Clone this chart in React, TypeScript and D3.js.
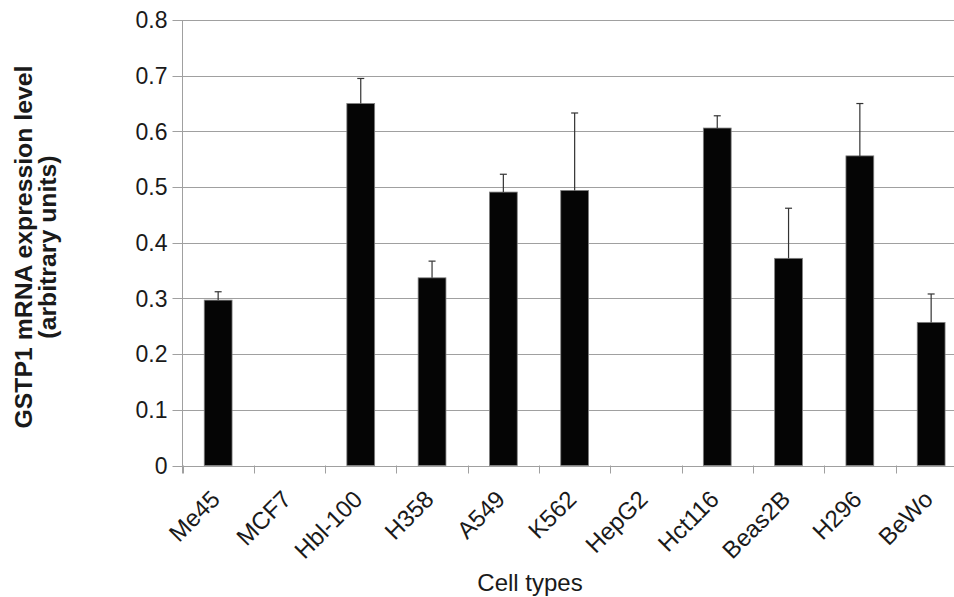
import React, { useEffect, useRef } from "react";
import * as d3 from "d3";

const cellTypes = ["Me45", "MCF7", "Hbl-100", "H358", "A549", "K562", "HepG2", "Hct116", "Beas2B", "H296", "BeWo"];
// null = not detected (no bar drawn)
const expression = [0.297, null, 0.65, 0.337, 0.491, 0.494, null, 0.606, 0.372, 0.556, 0.257];
const errorUp = [0.015, null, 0.045, 0.03, 0.032, 0.139, null, 0.022, 0.09, 0.094, 0.051];
const yTicks = [0, 0.1, 0.2, 0.3, 0.4, 0.5, 0.6, 0.7, 0.8];

const width = 954;
const height = 597;
const font = "'Liberation Sans', Arial, sans-serif";

const App = () => {
  const svgRef = useRef<SVGSVGElement>(null);

  useEffect(() => {
    const svg = d3.select(svgRef.current);
    svg.selectAll("*").remove();

    const left = 182.5;
    const bottom = 465.5;
    const catW = 71.3;

    const x = d3
      .scaleBand()
      .domain(cellTypes)
      .range([left, left + catW * cellTypes.length])
      .paddingInner(0.61)
      .paddingOuter(0.305);
    const y = d3.scaleLinear().domain([0, 0.8]).range([bottom, 20]);

    // gridlines + y ticks
    const grid = svg.append("g");
    grid
      .selectAll("line")
      .data(yTicks)
      .enter()
      .append("line")
      .attr("x1", left - 10)
      .attr("x2", width)
      .attr("y1", (d) => Math.round(y(d)) + 0.5)
      .attr("y2", (d) => Math.round(y(d)) + 0.5)
      .attr("stroke", "#a0a0a0")
      .attr("stroke-width", 1);

    grid
      .selectAll("text")
      .data(yTicks)
      .enter()
      .append("text")
      .attr("x", left - 15)
      .attr("y", (d) => y(d))
      .attr("dy", "0.36em")
      .attr("text-anchor", "end")
      .attr("font-family", font)
      .attr("font-size", 23)
      .attr("fill", "#1a1a1a")
      .text((d) => String(d));

    // axes lines
    svg
      .append("line")
      .attr("x1", left)
      .attr("x2", left)
      .attr("y1", y(0.8))
      .attr("y2", bottom + 8)
      .attr("stroke", "#a0a0a0");

    const boundaries = d3.range(cellTypes.length + 1).map((i) => left + i * catW);
    svg
      .append("g")
      .selectAll("line")
      .data(boundaries)
      .enter()
      .append("line")
      .attr("x1", (d) => Math.round(d) + 0.5)
      .attr("x2", (d) => Math.round(d) + 0.5)
      .attr("y1", bottom)
      .attr("y2", bottom + 8)
      .attr("stroke", "#a0a0a0");

    // bars
    const bars = cellTypes.map((c, i) => ({ c, v: expression[i], e: errorUp[i] })).filter((d) => d.v != null);
    svg
      .append("g")
      .selectAll("rect")
      .data(bars)
      .enter()
      .append("rect")
      .attr("x", (d) => x(d.c))
      .attr("y", (d) => y(d.v))
      .attr("width", x.bandwidth())
      .attr("height", (d) => bottom - y(d.v))
      .attr("fill", "#050505")
      .attr("stroke", "#808080")
      .attr("stroke-width", 0.8);

    // error bars (upper only)
    const err = svg.append("g").attr("stroke", "#333").attr("stroke-width", 1.2);
    bars.forEach((d) => {
      const cx = x(d.c) + x.bandwidth() / 2;
      err
        .append("line")
        .attr("x1", cx)
        .attr("x2", cx)
        .attr("y1", y(d.v))
        .attr("y2", y(d.v + d.e));
      err
        .append("line")
        .attr("x1", cx - 3.5)
        .attr("x2", cx + 3.5)
        .attr("y1", y(d.v + d.e))
        .attr("y2", y(d.v + d.e));
    });

    // category labels, rotated
    svg
      .append("g")
      .selectAll("text")
      .data(cellTypes)
      .enter()
      .append("text")
      .attr("transform", (d) => `translate(${x(d) + x.bandwidth() / 2 - 9},${bottom + 23}) rotate(-45)`)
      .attr("dy", "0.72em")
      .attr("text-anchor", "end")
      .attr("font-family", font)
      .attr("font-size", 24)
      .attr("fill", "#1a1a1a")
      .text((d) => d);

    // axis titles
    svg
      .append("text")
      .attr("x", 530)
      .attr("y", 591)
      .attr("text-anchor", "middle")
      .attr("font-family", font)
      .attr("font-size", 24)
      .attr("fill", "#1a1a1a")
      .text("Cell types");

    const yTitle = svg
      .append("text")
      .attr("transform", "translate(0,247) rotate(-90)")
      .attr("text-anchor", "middle")
      .attr("font-family", font)
      .attr("font-size", 24.8)
      .attr("font-weight", "bold")
      .attr("fill", "#1a1a1a");
    yTitle.append("tspan").attr("x", 0).attr("y", 32).text("GSTP1 mRNA expression level");
    yTitle.append("tspan").attr("x", 0).attr("y", 56).text("(arbitrary units)");
  }, []);

  return (
    <svg
      ref={svgRef}
      width={width}
      height={height}
      style={{ position: "absolute", left: 0, top: 0, background: "#fff" }}
    />
  );
};

export default App;
